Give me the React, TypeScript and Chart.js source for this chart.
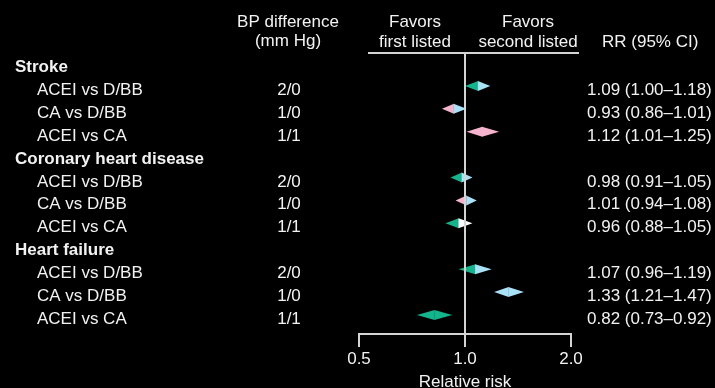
import React, { useEffect, useRef } from "react";
import { Chart, registerables } from "chart.js";

Chart.register(...registerables);

const groups = ["Stroke", "Coronary heart disease", "Heart failure"];
const comparisons = ["ACEI vs D/BB", "CA vs D/BB", "ACEI vs CA"];
const bpDiff = ["2/0", "1/0", "1/1"];
const rr = [1.09, 0.93, 1.12, 0.98, 1.01, 0.96, 1.07, 1.33, 0.82];
const ciLow = [1.0, 0.86, 1.01, 0.91, 0.94, 0.88, 0.96, 1.21, 0.73];
const ciHigh = [1.18, 1.01, 1.25, 1.05, 1.08, 1.05, 1.19, 1.47, 0.92];
const rrLabels = [
  "1.09 (1.00–1.18)",
  "0.93 (0.86–1.01)",
  "1.12 (1.01–1.25)",
  "0.98 (0.91–1.05)",
  "1.01 (0.94–1.08)",
  "0.96 (0.88–1.05)",
  "1.07 (0.96–1.19)",
  "1.33 (1.21–1.47)",
  "0.82 (0.73–0.92)",
];
const xTicks = [0.5, 1.0, 2.0];

const GREEN = "#14b48c";
const BLUE = "#a9e2f7";
const PINK = "#f6b3cd";
const WHITE = "#ffffff";
const leftColors = [GREEN, PINK, PINK, GREEN, PINK, GREEN, GREEN, BLUE, GREEN];
const rightColors = [BLUE, BLUE, PINK, BLUE, BLUE, WHITE, BLUE, BLUE, GREEN];

const FONT = "'Liberation Sans', Arial, Helvetica, sans-serif";
const TEXT = "#f2f2f2";
const LINE = "#d4d4d4";

// row index: header at g*4, comparisons at g*4 + 1..3
const rowOf = (i: number) => Math.floor(i / 3) * 4 + (i % 3) + 1;

export default function App() {
  const ref = useRef<HTMLCanvasElement | null>(null);

  useEffect(() => {
    document.body.style.margin = "0";
    document.body.style.background = "#000";
    const canvas = ref.current;
    if (!canvas) return;

    const forestPlugin = {
      id: "forest",
      beforeDraw(chart: any) {
        const ctx = chart.ctx;
        ctx.save();
        ctx.fillStyle = "#000";
        ctx.fillRect(0, 0, chart.width, chart.height);
        ctx.restore();
      },
      afterDatasetsDraw(chart: any) {
        const ctx = chart.ctx;
        const xs = chart.scales.x;
        const ys = chart.scales.y;
        const h = 5;
        ctx.save();
        rr.forEach((v, i) => {
          const y = ys.getPixelForValue(rowOf(i));
          const xl = xs.getPixelForValue(ciLow[i]);
          const xm = xs.getPixelForValue(v);
          const xh = xs.getPixelForValue(ciHigh[i]);
          ctx.fillStyle = leftColors[i];
          ctx.beginPath();
          ctx.moveTo(xl, y);
          ctx.lineTo(xm, y - h);
          ctx.lineTo(xm, y + h);
          ctx.closePath();
          ctx.fill();
          ctx.fillStyle = rightColors[i];
          ctx.beginPath();
          ctx.moveTo(xm - 0.3, y - h);
          ctx.lineTo(xh, y);
          ctx.lineTo(xm - 0.3, y + h);
          ctx.closePath();
          ctx.fill();
        });
        // reference line at RR = 1
        const x1 = xs.getPixelForValue(1);
        ctx.strokeStyle = LINE;
        ctx.lineWidth = 2;
        ctx.beginPath();
        ctx.moveTo(x1, chart.chartArea.top);
        ctx.lineTo(x1, chart.chartArea.bottom);
        ctx.stroke();
        // header underline
        ctx.beginPath();
        ctx.moveTo(368, chart.chartArea.top);
        ctx.lineTo(579, chart.chartArea.top);
        ctx.stroke();
        ctx.restore();
      },
      afterDraw(chart: any) {
        const ctx = chart.ctx;
        const ys = chart.scales.y;
        ctx.save();
        ctx.fillStyle = TEXT;
        ctx.textBaseline = "alphabetic";
        // column headers
        ctx.font = `17px ${FONT}`;
        ctx.textAlign = "center";
        ctx.fillText("BP difference", 288, 27);
        ctx.fillText("(mm Hg)", 288, 46);
        ctx.fillText("Favors", 415, 27);
        ctx.fillText("first listed", 415, 47);
        ctx.fillText("Favors", 528, 27);
        ctx.fillText("second listed", 528, 47);
        ctx.textAlign = "left";
        ctx.fillText("RR (95% CI)", 602, 47);
        // group headers
        ctx.font = `bold 17px ${FONT}`;
        groups.forEach((g, gi) => {
          ctx.fillText(g, 15, ys.getPixelForValue(gi * 4) + 9);
        });
        ctx.font = `17px ${FONT}`;
        rr.forEach((_, i) => {
          const y = ys.getPixelForValue(rowOf(i)) + 9;
          ctx.textAlign = "left";
          ctx.fillText(comparisons[i % 3], 37, y);
          ctx.textAlign = "center";
          ctx.fillText(bpDiff[i % 3], 289, y);
          ctx.textAlign = "left";
          ctx.fillText(rrLabels[i], 587, y);
        });
        ctx.restore();
      },
    };

    const chart = new Chart(canvas, {
      type: "scatter",
      data: {
        datasets: [
          {
            data: rr.map((v, i) => ({ x: v, y: rowOf(i) })),
            pointRadius: 0,
            showLine: false,
          },
        ],
      },
      options: {
        animation: false,
        responsive: false,
        maintainAspectRatio: false,
        events: [],
        layout: { padding: { left: 359, right: 144, top: 53, bottom: 0 } },
        plugins: { legend: { display: false }, tooltip: { enabled: false } },
        scales: {
          x: {
            type: "logarithmic",
            min: 0.5,
            max: 2.0,
            position: "bottom",
            border: { display: true, color: LINE, width: 2 },
            grid: {
              display: true,
              drawOnChartArea: false,
              drawTicks: true,
              tickLength: 13,
              color: LINE,
              lineWidth: 2,
            },
            afterBuildTicks: (s: any) => {
              s.ticks = xTicks.map((v) => ({ value: v }));
            },
            afterFit: (s: any) => {
              s.height = 54;
            },
            ticks: {
              color: TEXT,
              font: { size: 17, family: FONT },
              padding: 2,
              autoSkip: false,
              maxRotation: 0,
              callback: (v: any) => Number(v).toFixed(1),
            },
            title: {
              display: true,
              text: "Relative risk",
              color: TEXT,
              font: { size: 17, family: FONT, lineHeight: 0.7 },
              padding: { top: 0, bottom: 0 },
            },
          },
          y: {
            type: "linear",
            display: false,
            reverse: true,
            min: -0.437,
            max: 11.83,
          },
        },
      },
      plugins: [forestPlugin],
    } as any);

    return () => chart.destroy();
  }, []);

  return (
    <div style={{ width: 715, height: 388, background: "#000" }}>
      <canvas ref={ref} width={715} height={388} style={{ display: "block" }} />
    </div>
  );
}
